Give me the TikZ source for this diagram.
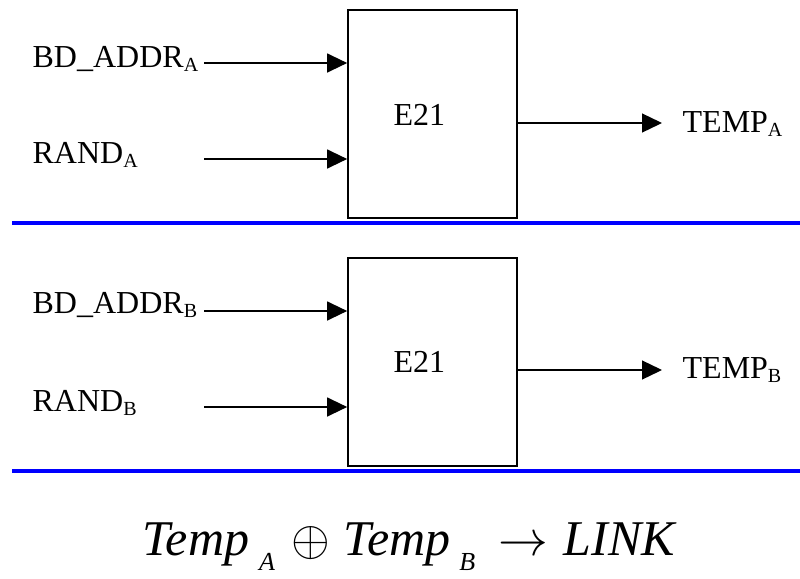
\documentclass[tikz,border=0pt]{standalone}
\usepackage{fontspec}
\setmainfont{Liberation Serif}
\usepackage{tikz}
\usetikzlibrary{arrows.meta,positioning}

\newcommand{\lsub}[1]{\raisebox{-2pt}{\fontsize{10}{12}\selectfont #1}}
\newcommand{\msub}[1]{\raisebox{-7.5pt}{\fontsize{13}{15}\selectfont\itshape #1}}

\begin{document}
\begin{tikzpicture}[x=0.5pt,y=-0.5pt,->,>={Triangle[length=10pt,width=9.5pt]},line width=0.65pt,
  blockbox/.style={rectangle,draw,line width=0.85pt,minimum width=84.5pt,minimum height=104pt,inner sep=0pt},
  lbl/.style={anchor=base west,inner sep=0pt,font=\fontsize{16}{19}\selectfont},
  sepline/.style={-,draw={rgb,255:red,0;green,0;blue,255},line width=1.6pt}]
\useasboundingbox (0,0) rectangle (800,579);

% upper half (A)
\node [blockbox] (boxA) at (432.5, 114) {};
\node [lbl] (eA) at (393, 125) {E21};
\node [lbl] (addrA) at (32, 67) {BD\_ADDR\lsub{A}};
\node [lbl] (randA) at (32, 163) {RAND\lsub{A}};
\node [lbl] (tempA) at (682, 132) {TEMP\lsub{A}};
\coordinate (inA1) at (204, 63);
\coordinate (inA2) at (204, 159);
\coordinate (outA) at (662, 123);

\draw (inA1) to (inA1 -| boxA.west);
\draw (inA2) to (inA2 -| boxA.west);
\draw (outA -| boxA.east) to (outA);
\draw [sepline] (12, 223) -- (800, 223);

% lower half (B)
\node [blockbox] (boxB) at (432.5, 362) {};
\node [lbl] (eB) at (393, 372) {E21};
\node [lbl] (addrB) at (32, 313) {BD\_ADDR\lsub{B}};
\node [lbl] (randB) at (32, 411) {RAND\lsub{B}};
\node [lbl] (tempB) at (682, 378) {TEMP\lsub{B}};
\coordinate (inB1) at (204, 311);
\coordinate (inB2) at (204, 407);
\coordinate (outB) at (662, 370);

\draw (inB1) to (inB1 -| boxB.west);
\draw (inB2) to (inB2 -| boxB.west);
\draw (outB -| boxB.east) to (outB);
\draw [sepline] (12, 471) -- (800, 471);

% combining the two results
\node [anchor=base west,inner sep=0pt,font=\fontsize{25}{29}\selectfont\itshape] (link) at (142, 555)
  {Temp\hspace{5pt}\msub{A}\hspace{8pt}$\oplus$\hspace{7pt}Temp\hspace{4.5pt}\msub{B}\hspace{11.5pt}$\rightarrow$\hspace{8pt}LINK};
\end{tikzpicture}
\end{document}
